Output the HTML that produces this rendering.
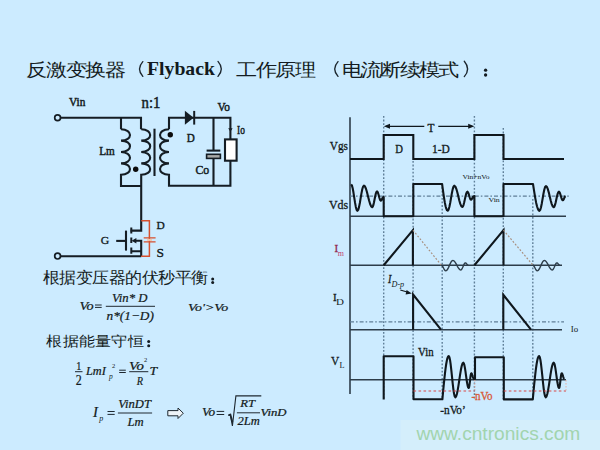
<!DOCTYPE html>
<html><head><meta charset="utf-8"><title>Flyback</title>
<style>
html,body{margin:0;padding:0;width:600px;height:450px;overflow:hidden;background:#CCEBFF;}
svg{position:absolute;left:0;top:0;}
text{font-family:"Liberation Serif",serif;}
</style></head><body>
<svg width="600" height="450" viewBox="0 0 600 450">
<g fill="none" stroke="#151d24" stroke-width="2.1" stroke-linejoin="miter">
<circle cx="57.6" cy="117.8" r="2.9" stroke-width="1.7" fill="#CCEBFF"/>
<path d="M60.5 117.8 H141 V129.3"/><path d="M121 117.8 V129.3"/>
<path d="M121 129.3 C133.00 129.30 133.00 140.65 121.00 140.65 C133.00 140.65 133.00 152.00 121.00 152.00 C133.00 152.00 133.00 163.35 121.00 163.35 C133.00 163.35 133.00 174.70 121.00 174.70 V186 H141.2"/>
<path d="M141.2 129.3 C153.20 129.30 153.20 140.65 141.20 140.65 C153.20 140.65 153.20 152.00 141.20 152.00 C153.20 152.00 153.20 163.35 141.20 163.35 C153.20 163.35 153.20 174.70 141.20 174.70 V230.6 H130.6"/>
<path d="M154.5 128.7 V176"/>
<path d="M169 129.3 C157.00 129.30 157.00 140.65 169.00 140.65 C157.00 140.65 157.00 152.00 169.00 152.00 C157.00 152.00 157.00 163.35 169.00 163.35 C157.00 163.35 157.00 174.70 169.00 174.70 V185.8 H230.4 V117.8 H169 V129.3"/>
<path d="M213.5 117.8 V150.6 M213.5 158.6 V185.8"/>
<path d="M206.6 150.6 H220.3"/>
<rect x="206.6" y="154.3" width="13.8" height="4.1" fill="#a9aaa8" stroke-width="1.6"/>
<rect x="225" y="139.4" width="11.6" height="21.3" fill="#ffffff"/>
<path d="M131.3 227.5 V233.5 M131.3 237.5 V243 M131.3 247.5 V253.8" stroke-width="2"/>
<path d="M126 230.6 V250.6"/>
<path d="M116.2 240.9 H126"/>
<path d="M134.5 240.8 H141.2 V256.3 M131.3 251.3 H141.2"/>
<path d="M60.4 256.3 H141.2"/>
<circle cx="57.6" cy="256.1" r="2.9" stroke-width="1.7" fill="#CCEBFF"/>
</g>
<path d="M184.9 110.8 L193.6 117.8 L184.9 124.8 Z" fill="#151d24"/>
<path d="M194.2 110.9 V124.6" stroke="#151d24" stroke-width="2"/>
<path d="M131.6 240.8 L136.4 238 L136.4 243.6 Z" fill="#151d24"/>
<path d="M228.2 128.2 H232.6 L230.4 131.8 Z" fill="#151d24"/>
<circle cx="135.7" cy="169.3" r="2.7" fill="#0c0c0c"/><circle cx="170.3" cy="134.7" r="2.7" fill="#0c0c0c"/>
<g fill="none" stroke="#D6502E" stroke-width="1.5"><path d="M141.2 220.8 H149.4 V256.3 H141.2"/><path d="M143.7 237.9 H155.6 M143.7 241.9 H155.6" stroke-width="1.3"/></g>
<path d="M147 239.9 H152" stroke="#F0C8B0" stroke-width="2"/>
<g stroke="#1e2830" fill="none">
<path d="M95 305 H101.7" stroke-width="1.0"/>
<path d="M95 307.4 H101.7" stroke-width="1.0"/>
<path d="M119.2 370.2 H125.8" stroke-width="1.0"/>
<path d="M119.2 372.5 H125.8" stroke-width="1.0"/>
<path d="M107.5 411.5 H114.7" stroke-width="1.0"/>
<path d="M107.5 414.4 H114.7" stroke-width="1.0"/>
<path d="M216.6 411.4 H224.2" stroke-width="1.0"/>
<path d="M216.6 414.5 H224.2" stroke-width="1.0"/>
<path d="M105.8 306.3 H155" stroke-width="1.0"/>
<path d="M75 371.7 H82.5" stroke-width="1.0"/>
<path d="M129.2 371.7 H148.3" stroke-width="1.0"/>
<path d="M117.9 413 H152.1" stroke-width="1.0"/>
<path d="M236.9 412.8 H260" stroke-width="1.0"/>
<path d="M228.3 415.6 L230.2 414.5 L232.4 426 L235.9 395.9 H261.3" stroke-width="1.1"/>
<path d="M228.6 415.2 L230.4 414.6 L232.4 422" stroke-width="1.8"/>
</g>
<path d="M167.8 410.6 H178 V408 L183.3 413.2 L178 418.5 V415.8 H167.8 Z" fill="#eef4f8" stroke="#1e2830" stroke-width="1.0" stroke-linejoin="miter"/>
<path d="M350 117.3 V394" stroke="#2d3d4a" stroke-width="1.6" fill="none"/>
<path d="M383.7 116 V399" stroke="#5f7f98" stroke-width="1.4" stroke-dasharray="1.8 1.8" fill="none"/>
<path d="M413.1 161 V399" stroke="#5f7f98" stroke-width="1.4" stroke-dasharray="1.8 1.8" fill="none"/>
<path d="M442.2 183.5 V399" stroke="#5f7f98" stroke-width="1.4" stroke-dasharray="1.8 1.8" fill="none"/>
<path d="M474.4 116 V399" stroke="#5f7f98" stroke-width="1.4" stroke-dasharray="1.8 1.8" fill="none"/>
<path d="M503.3 128 V399" stroke="#5f7f98" stroke-width="1.4" stroke-dasharray="1.8 1.8" fill="none"/>
<path d="M532.8 199 V399" stroke="#5f7f98" stroke-width="1.4" stroke-dasharray="1.8 1.8" fill="none"/>
<path d="M350 196.2 H570" stroke="#5f7f98" stroke-width="1.2" stroke-dasharray="4 2 1.6 2" fill="none"/>
<path d="M350 321.8 H564" stroke="#5f7f98" stroke-width="1.2" stroke-dasharray="4 2 1.6 2" fill="none"/>
<path d="M350 216.3 H566" stroke="#2d3d4a" stroke-width="1.5" fill="none"/>
<path d="M350 265.25 H562" stroke="#2d3d4a" stroke-width="1.5" fill="none"/>
<path d="M350 329.7 H562" stroke="#2d3d4a" stroke-width="1.5" fill="none"/>
<path d="M350 379.8 H566" stroke="#2d3d4a" stroke-width="1.5" fill="none"/>
<path d="M386 126.3 H424.3 M438.3 126.3 H472" stroke="#0f171d" stroke-width="1.3" fill="none"/>
<path d="M383.8 126.3 L390 123.8 L390 128.8 Z M474.4 126.3 L468.2 123.8 L468.2 128.8 Z" fill="#0f171d"/>
<path d="M350 159 H383.7 V135 H413.3 V159 H474.4 V135 H503.5 V159 H564" stroke="#0f171d" stroke-width="2.1" fill="none"/>
<path d="M351.1 184.4 L351.89 185.40 L352.68 188.27 L353.46 192.55 L354.25 197.60 L355.04 202.65 L355.82 206.93 L356.61 209.80 L357.40 210.80 L358.21 209.84 L359.02 207.11 L359.84 203.02 L360.65 198.20 L361.46 193.38 L362.27 189.29 L363.09 186.56 L363.90 185.60 L364.94 186.42 L365.97 188.76 L367.01 192.27 L368.05 196.40 L369.09 200.53 L370.12 204.04 L371.16 206.38 L372.20 207.20 L372.80 206.60 L373.40 204.89 L374.00 202.32 L374.60 199.30 L375.20 196.28 L375.80 193.71 L376.40 192.00 L377.00 191.40 L377.48 191.75 L377.95 192.75 L378.43 194.24 L378.90 196.00 L379.38 197.76 L379.85 199.25 L380.32 200.25 L380.80 200.60 L381.11 200.47 L381.43 200.10 L381.74 199.55 L382.05 198.90 L382.36 198.25 L382.68 197.70 L382.99 197.33 L383.30 197.20 L383.7 197 V216.3 H413.3 V184 H442.1 L442.80 189.21 L443.50 194.22 L444.20 198.83 L444.90 202.88 L445.60 206.20 L446.30 208.67 L447.00 210.19 L447.70 210.70 L448.52 209.75 L449.35 207.04 L450.18 202.98 L451.00 198.20 L451.82 193.42 L452.65 189.36 L453.48 186.65 L454.30 185.70 L455.30 186.51 L456.30 188.82 L457.30 192.27 L458.30 196.35 L459.30 200.43 L460.30 203.88 L461.30 206.19 L462.30 207.00 L462.94 206.42 L463.57 204.76 L464.21 202.28 L464.85 199.35 L465.49 196.42 L466.12 193.94 L466.76 192.28 L467.40 191.70 L467.85 192.00 L468.30 192.87 L468.75 194.17 L469.20 195.70 L469.65 197.23 L470.10 198.53 L470.55 199.40 L471.00 199.70 L471.34 199.57 L471.68 199.20 L472.01 198.65 L472.35 198.00 L472.69 197.35 L473.02 196.80 L473.36 196.43 L473.70 196.30 L474.4 196 V216.3 H503.5 V184 H533 L533.80 189.15 L534.60 194.19 L535.40 198.84 L536.20 202.92 L537.00 206.27 L537.80 208.75 L538.60 210.28 L539.40 210.80 L540.21 209.86 L541.02 207.18 L541.84 203.18 L542.65 198.45 L543.46 193.72 L544.27 189.72 L545.09 187.04 L545.90 186.10 L546.88 186.90 L547.85 189.19 L548.83 192.61 L549.80 196.65 L550.77 200.69 L551.75 204.11 L552.73 206.40 L553.70 207.20 L554.35 206.61 L555.00 204.93 L555.65 202.42 L556.30 199.45 L556.95 196.48 L557.60 193.97 L558.25 192.29 L558.90 191.70 L559.39 192.03 L559.88 192.96 L560.36 194.35 L560.85 196.00 L561.34 197.65 L561.82 199.04 L562.31 199.97 L562.80 200.30 L563.15 200.14 L563.50 199.68 L563.85 199.00 L564.20 198.20 L564.55 197.40 L564.90 196.72 L565.25 196.26 L565.60 196.10" stroke="#0f171d" stroke-width="2.1" fill="none" stroke-linejoin="round"/>
<path d="M383.7 265.25 L412.9 230.2 V265.25 M474.4 265.25 L503.5 230.2 V265.25" stroke="#0f171d" stroke-width="2.1" fill="none"/>
<path d="M413 230.2 L441.4 265.25 M503.5 230.2 L533 265.25" stroke="#A89080" stroke-width="1.2" stroke-dasharray="1.8 1.8" fill="none"/>
<path d="M441.25 265.25 L441.82 265.46 L442.39 266.06 L442.96 266.96 L443.52 268.02 L444.09 269.09 L444.66 269.99 L445.23 270.59 L445.80 270.80 L446.69 270.40 L447.57 269.28 L448.46 267.59 L449.35 265.60 L450.24 263.61 L451.12 261.92 L452.01 260.80 L452.90 260.40 L453.89 260.77 L454.88 261.81 L455.86 263.36 L456.85 265.20 L457.84 267.04 L458.82 268.59 L459.81 269.63 L460.80 270.00 L461.38 269.73 L461.95 268.96 L462.52 267.81 L463.10 266.45 L463.68 265.09 L464.25 263.94 L464.82 263.17 L465.40 262.90 L465.76 262.99 L466.12 263.24 L466.49 263.63 L466.85 264.07 L467.21 264.52 L467.57 264.91 L467.94 265.16 L468.30 265.25 M532.75 265.25 L533.32 265.46 L533.89 266.06 L534.46 266.96 L535.02 268.02 L535.59 269.09 L536.16 269.99 L536.73 270.59 L537.30 270.80 L538.19 270.40 L539.07 269.28 L539.96 267.59 L540.85 265.60 L541.74 263.61 L542.62 261.92 L543.51 260.80 L544.40 260.40 L545.39 260.77 L546.38 261.81 L547.36 263.36 L548.35 265.20 L549.34 267.04 L550.32 268.59 L551.31 269.63 L552.30 270.00 L552.88 269.73 L553.45 268.96 L554.02 267.81 L554.60 266.45 L555.17 265.09 L555.75 263.94 L556.32 263.17 L556.90 262.90 L557.26 262.99 L557.62 263.24 L557.99 263.63 L558.35 264.07 L558.71 264.52 L559.07 264.91 L559.44 265.16 L559.80 265.25" stroke="#2d3d4a" stroke-width="1.4" fill="none"/>
<path d="M413.1 329.7 V294.6 L441 329.7 M503.3 329.7 V294.8 L531 329.7" stroke="#0f171d" stroke-width="2.1" fill="none"/>
<path d="M400.3 290 L408 292.3" stroke="#0f171d" stroke-width="1.2" fill="none"/>
<path d="M411.8 293.4 L406.6 289.9 L405.6 294.6 Z" fill="#0f171d"/>
<path d="M383.7 399.5 V356.2 H413.5 V399.3 H442.4 L443.03 392.44 L443.66 385.85 L444.29 379.59 L444.92 373.81 L445.55 368.65 L446.18 364.25 L446.81 360.71 L447.44 358.11 L448.07 356.53 L448.70 356.00 L449.36 357.01 L450.02 359.94 L450.68 364.51 L451.34 370.27 L452.00 376.65 L452.66 383.03 L453.32 388.79 L453.98 393.36 L454.64 396.29 L455.30 397.30 L456.10 396.45 L456.90 394.00 L457.70 390.17 L458.50 385.35 L459.30 380.00 L460.10 374.65 L460.90 369.83 L461.70 366.00 L462.50 363.55 L463.30 362.70 L463.84 363.32 L464.38 365.12 L464.92 367.91 L465.46 371.44 L466.00 375.35 L466.54 379.26 L467.08 382.79 L467.62 385.58 L468.16 387.38 L468.70 388.00 L468.96 387.64 L469.22 386.60 L469.48 384.97 L469.74 382.92 L470.00 380.65 L470.26 378.38 L470.52 376.33 L470.78 374.70 L471.04 373.66 L471.30 373.30 L471.57 373.44 L471.84 373.84 L472.11 374.47 L472.38 375.27 L472.65 376.15 L472.92 377.03 L473.19 377.83 L473.46 378.46 L473.73 378.86 L474.00 379.00 L475 379 V357.3 H503.8 V399.4 H532.8 L533.43 392.44 L534.06 385.85 L534.69 379.59 L535.32 373.81 L535.95 368.65 L536.58 364.25 L537.21 360.71 L537.84 358.11 L538.47 356.53 L539.10 356.00 L539.76 357.01 L540.42 359.94 L541.08 364.51 L541.74 370.27 L542.40 376.65 L543.06 383.03 L543.72 388.79 L544.38 393.36 L545.04 396.29 L545.70 397.30 L546.50 396.45 L547.30 394.00 L548.10 390.17 L548.90 385.35 L549.70 380.00 L550.50 374.65 L551.30 369.83 L552.10 366.00 L552.90 363.55 L553.70 362.70 L554.24 363.32 L554.78 365.12 L555.32 367.91 L555.86 371.44 L556.40 375.35 L556.94 379.26 L557.48 382.79 L558.02 385.58 L558.56 387.38 L559.10 388.00 L559.36 387.64 L559.62 386.60 L559.88 384.97 L560.14 382.92 L560.40 380.65 L560.66 378.38 L560.92 376.33 L561.18 374.70 L561.44 373.66 L561.70 373.30 L561.97 373.44 L562.24 373.84 L562.51 374.47 L562.78 375.27 L563.05 376.15 L563.32 377.03 L563.59 377.83 L563.86 378.46 L564.13 378.86 L564.40 379.00" stroke="#0f171d" stroke-width="2.1" fill="none" stroke-linejoin="round"/>
<path d="M413.5 391 H474.6 M503.8 391 H566" stroke="#D84848" stroke-width="1.1" stroke-dasharray="2.6 2.4" fill="none"/>
<path d="M474.8 380 V391 M566 380 V391" stroke="#E8A898" stroke-width="0.9" stroke-dasharray="1.5 1.5" fill="none"/>
<rect x="400.5" y="420" width="199.5" height="30" fill="#D4EEFB"/>
<g class="cjk">
<text x="26.20 44.49 62.77 81.06 99.35" y="75.75" transform="matrix(1.08 0 0 0.92 -2.096 6.060)" style="font-size:19.6px;fill:#141c22">反激变换器</text>
<text x="236.20 254.30 272.40 290.51" y="75.75" transform="matrix(1.08 0 0 0.92 -18.896 6.060)" style="font-size:19.6px;fill:#141c22">工作原理</text>
<text x="341.80 359.67 377.54 395.41 413.28 431.15" y="75.75" transform="matrix(1.08 0 0 0.92 -27.344 6.060)" style="font-size:19.6px;fill:#141c22">电流断续模式</text>
<text x="43.00 59.50 76.00 92.50 109.00 125.50 142.00 158.50 175.00 191.50" y="282.90" transform="matrix(1.0 0 0 0.94 0.000 16.974)" style="font-size:16.6px;fill:#141c22">根据变压器的伏秒平衡</text>
<text x="46.30 62.55 78.80 95.05 111.30 127.55" y="346.20" transform="matrix(1.0 0 0 0.87 0.000 45.006)" style="font-size:16.3px;fill:#141c22">根据能量守恒</text>
</g>
<g fill="none" stroke="#1c262e" stroke-width="1.35" stroke-linecap="round">
<path d="M142.8 61.6 Q136.2 69 142.8 76.4"/><path d="M218 61.4 Q224.6 69 218 76.4"/>
<path d="M338 61.6 Q331.4 69 338 76.4"/><path d="M464.3 61.2 Q470.9 69 464.3 76.6"/>
</g>
<g fill="#141c22"><circle cx="485.6" cy="70.2" r="1.65"/><circle cx="485.6" cy="75" r="1.65"/><circle cx="212.7" cy="279" r="1.5"/><circle cx="212.7" cy="282.6" r="1.5"/><circle cx="148.7" cy="341.6" r="1.5"/><circle cx="148.7" cy="345.8" r="1.5"/></g>
<text x="69.10" y="106.00" style="font-family:'Liberation Serif',serif;font-size:11.50px;fill:#121a20;stroke:#121a20;stroke-width:0.45px;" textLength="16.31" lengthAdjust="spacingAndGlyphs">Vin</text>
<text x="141.60" y="107.60" style="font-family:'Liberation Serif',serif;font-size:15.86px;fill:#121a20;stroke:#121a20;stroke-width:0.45px;" textLength="18.84" lengthAdjust="spacingAndGlyphs">n:1</text>
<text x="99.30" y="154.50" style="font-family:'Liberation Serif',serif;font-size:11.50px;fill:#121a20;stroke:#121a20;stroke-width:0.45px;" textLength="15.53" lengthAdjust="spacingAndGlyphs">Lm</text>
<text x="217.60" y="111.10" style="font-family:'Liberation Serif',serif;font-size:11.50px;fill:#121a20;stroke:#121a20;stroke-width:0.45px;" textLength="12.33" lengthAdjust="spacingAndGlyphs">Vo</text>
<text x="237.10" y="133.80" style="font-family:'Liberation Serif',serif;font-size:11.50px;fill:#121a20;stroke:#121a20;stroke-width:0.45px;" textLength="7.77" lengthAdjust="spacingAndGlyphs">Io</text>
<text x="186.80" y="142.20" style="font-family:'Liberation Serif',serif;font-size:11.50px;fill:#121a20;stroke:#121a20;stroke-width:0.45px;" textLength="8.04" lengthAdjust="spacingAndGlyphs">D</text>
<text x="195.50" y="174.40" style="font-family:'Liberation Serif',serif;font-size:12.50px;fill:#121a20;stroke:#121a20;stroke-width:0.45px;" textLength="13.76" lengthAdjust="spacingAndGlyphs">Co</text>
<text x="156.50" y="229.00" style="font-family:'Liberation Serif',serif;font-size:11.00px;fill:#121a20;stroke:#121a20;stroke-width:0.3px;" textLength="8.27" lengthAdjust="spacingAndGlyphs">D</text>
<text x="156.50" y="256.70" style="font-family:'Liberation Serif',serif;font-size:11.50px;fill:#121a20;stroke:#121a20;stroke-width:0.3px;" textLength="7.48" lengthAdjust="spacingAndGlyphs">S</text>
<text x="100.80" y="243.75" style="font-family:'Liberation Serif',serif;font-size:11.00px;fill:#121a20;stroke:#121a20;stroke-width:0.3px;" textLength="8.49" lengthAdjust="spacingAndGlyphs">G</text>
<text x="147.00" y="75.40" style="font-family:'Liberation Serif',serif;font-size:18.96px;fill:#121a20;font-weight:bold;" textLength="67.94" lengthAdjust="spacingAndGlyphs">Flyback</text>
<text x="79.50" y="309.60" style="font-family:'Liberation Serif',serif;font-size:12.82px;fill:#121a20;font-style:italic;stroke:#121a20;stroke-width:0.22px;" textLength="14.19" lengthAdjust="spacingAndGlyphs">Vo</text>
<text x="112.00" y="301.60" style="font-family:'Liberation Serif',serif;font-size:12.82px;fill:#121a20;font-style:italic;stroke:#121a20;stroke-width:0.22px;" textLength="35.48" lengthAdjust="spacingAndGlyphs">Vin* D</text>
<text x="106.50" y="319.50" style="font-family:'Liberation Serif',serif;font-size:13.30px;fill:#121a20;font-style:italic;stroke:#121a20;stroke-width:0.22px;" textLength="47.42" lengthAdjust="spacingAndGlyphs">n*(1−D)</text>
<text x="188.00" y="311.10" style="font-family:'Liberation Serif',serif;font-size:11.29px;fill:#121a20;font-style:italic;stroke:#121a20;stroke-width:0.22px;" textLength="40.27" lengthAdjust="spacingAndGlyphs">Vo'&gt;Vo</text>
<text x="76.20" y="369.50" style="font-family:'Liberation Serif',serif;font-size:12.53px;fill:#121a20;stroke:#121a20;stroke-width:0.22px;" textLength="5.11" lengthAdjust="spacingAndGlyphs">1</text>
<text x="75.80" y="385.10" style="font-family:'Liberation Serif',serif;font-size:13.78px;fill:#121a20;stroke:#121a20;stroke-width:0.22px;" textLength="5.96" lengthAdjust="spacingAndGlyphs">2</text>
<text x="86.00" y="374.90" style="font-family:'Liberation Serif',serif;font-size:12.08px;fill:#121a20;font-style:italic;stroke:#121a20;stroke-width:0.22px;" textLength="19.71" lengthAdjust="spacingAndGlyphs">LmI</text>
<text x="109.00" y="378.60" style="font-family:'Liberation Serif',serif;font-size:7.50px;fill:#121a20;font-style:italic;">p</text>
<text x="112.10" y="367.90" style="font-family:'Liberation Serif',serif;font-size:6.50px;fill:#121a20;">2</text>
<text x="129.10" y="370.30" style="font-family:'Liberation Serif',serif;font-size:12.44px;fill:#121a20;font-style:italic;stroke:#121a20;stroke-width:0.22px;" textLength="14.82" lengthAdjust="spacingAndGlyphs">Vo</text>
<text x="144.10" y="362.10" style="font-family:'Liberation Serif',serif;font-size:6.50px;fill:#121a20;">2</text>
<text x="136.70" y="384.50" style="font-family:'Liberation Serif',serif;font-size:12.50px;fill:#121a20;font-style:italic;stroke:#121a20;stroke-width:0.22px;" textLength="6.23" lengthAdjust="spacingAndGlyphs">R</text>
<text x="149.60" y="374.90" style="font-family:'Liberation Serif',serif;font-size:12.08px;fill:#121a20;font-style:italic;stroke:#121a20;stroke-width:0.22px;" textLength="7.63" lengthAdjust="spacingAndGlyphs">T</text>
<text x="93.00" y="416.50" style="font-family:'Liberation Serif',serif;font-size:15.28px;fill:#121a20;font-style:italic;stroke:#121a20;stroke-width:0.22px;" textLength="4.89" lengthAdjust="spacingAndGlyphs">I</text>
<text x="99.20" y="420.50" style="font-family:'Liberation Serif',serif;font-size:8.00px;fill:#121a20;font-style:italic;">p</text>
<text x="118.30" y="408.20" style="font-family:'Liberation Serif',serif;font-size:11.73px;fill:#121a20;font-style:italic;stroke:#121a20;stroke-width:0.22px;" textLength="32.67" lengthAdjust="spacingAndGlyphs">VinDT</text>
<text x="127.50" y="426.10" style="font-family:'Liberation Serif',serif;font-size:12.33px;fill:#121a20;font-style:italic;stroke:#121a20;stroke-width:0.22px;" textLength="16.17" lengthAdjust="spacingAndGlyphs">Lm</text>
<text x="201.90" y="415.70" style="font-family:'Liberation Serif',serif;font-size:11.73px;fill:#121a20;font-style:italic;stroke:#121a20;stroke-width:0.22px;" textLength="13.19" lengthAdjust="spacingAndGlyphs">Vo</text>
<text x="240.30" y="407.00" style="font-family:'Liberation Serif',serif;font-size:11.33px;fill:#121a20;font-style:italic;stroke:#121a20;stroke-width:0.22px;" textLength="14.77" lengthAdjust="spacingAndGlyphs">RT</text>
<text x="237.50" y="424.80" style="font-family:'Liberation Serif',serif;font-size:12.06px;fill:#121a20;font-style:italic;stroke:#121a20;stroke-width:0.22px;" textLength="22.30" lengthAdjust="spacingAndGlyphs">2Lm</text>
<text x="260.55" y="416.05" style="font-family:'Liberation Serif',serif;font-size:9.31px;fill:#121a20;font-style:italic;stroke:#121a20;stroke-width:0.22px;" textLength="25.95" lengthAdjust="spacingAndGlyphs">VinD</text>
<text x="329.80" y="149.70" style="font-family:'Liberation Serif',serif;font-size:11.50px;fill:#121a20;stroke:#121a20;stroke-width:0.3px;" textLength="18.12" lengthAdjust="spacingAndGlyphs">Vgs</text>
<text x="328.90" y="208.50" style="font-family:'Liberation Serif',serif;font-size:11.50px;fill:#121a20;stroke:#121a20;stroke-width:0.3px;" textLength="19.22" lengthAdjust="spacingAndGlyphs">Vds</text>
<text x="395.20" y="152.80" style="font-family:'Liberation Serif',serif;font-size:11.50px;fill:#121a20;stroke:#121a20;stroke-width:0.3px;" textLength="7.70" lengthAdjust="spacingAndGlyphs">D</text>
<text x="431.90" y="152.80" style="font-family:'Liberation Serif',serif;font-size:11.50px;fill:#121a20;stroke:#121a20;stroke-width:0.3px;" textLength="17.85" lengthAdjust="spacingAndGlyphs">1-D</text>
<text x="427.60" y="132.10" style="font-family:'Liberation Serif',serif;font-size:11.50px;fill:#121a20;stroke:#121a20;stroke-width:0.3px;" textLength="6.95" lengthAdjust="spacingAndGlyphs">T</text>
<text x="334.40" y="251.60" style="font-family:'Liberation Serif',serif;font-size:11.00px;fill:#902850;stroke:#902850;stroke-width:0.3px;">I</text>
<text x="337.70" y="256.20" style="font-family:'Liberation Serif',serif;font-size:8.00px;fill:#C04070;" textLength="6.13" lengthAdjust="spacingAndGlyphs">m</text>
<text x="333.10" y="300.60" style="font-family:'Liberation Serif',serif;font-size:11.00px;fill:#121a20;stroke:#121a20;stroke-width:0.3px;">I</text>
<text x="336.10" y="304.50" style="font-family:'Liberation Serif',serif;font-size:7.88px;fill:#121a20;" textLength="7.92" lengthAdjust="spacingAndGlyphs">D</text>
<text x="331.00" y="364.60" style="font-family:'Liberation Serif',serif;font-size:12.00px;fill:#121a20;stroke:#121a20;stroke-width:0.3px;" textLength="8.20" lengthAdjust="spacingAndGlyphs">V</text>
<text x="339.60" y="367.50" style="font-family:'Liberation Serif',serif;font-size:7.36px;fill:#121a20;" textLength="5.04" lengthAdjust="spacingAndGlyphs">L</text>
<text x="462.50" y="179.00" style="font-family:'Liberation Serif',serif;font-size:7.00px;fill:#121a20;" textLength="26.98" lengthAdjust="spacingAndGlyphs">Vin+nVo</text>
<text x="488.50" y="201.50" style="font-family:'Liberation Serif',serif;font-size:7.00px;fill:#121a20;" textLength="11.27" lengthAdjust="spacingAndGlyphs">Vin</text>
<text x="570.70" y="331.90" style="font-family:'Liberation Serif',serif;font-size:8.50px;fill:#121a20;" textLength="7.41" lengthAdjust="spacingAndGlyphs">Io</text>
<text x="388.00" y="283.20" style="font-family:'Liberation Serif',serif;font-size:11.58px;fill:#121a20;font-style:italic;stroke:#121a20;stroke-width:0.3px;" textLength="3.37" lengthAdjust="spacingAndGlyphs">I</text>
<text x="391.50" y="286.90" style="font-family:'Liberation Serif',serif;font-size:7.30px;fill:#121a20;font-style:italic;" textLength="12.69" lengthAdjust="spacingAndGlyphs">D-p</text>
<text x="418.10" y="355.50" style="font-family:'Liberation Serif',serif;font-size:11.50px;fill:#121a20;stroke:#121a20;stroke-width:0.3px;" textLength="15.44" lengthAdjust="spacingAndGlyphs">Vin</text>
<text x="471.40" y="399.80" style="font-family:'Liberation Serif',serif;font-size:11.50px;fill:#D85838;stroke:#D85838;stroke-width:0.3px;" textLength="21.15" lengthAdjust="spacingAndGlyphs">-nVo</text>
<text x="440.30" y="414.30" style="font-family:'Liberation Serif',serif;font-size:11.50px;fill:#121a20;stroke:#121a20;stroke-width:0.3px;" textLength="25.46" lengthAdjust="spacingAndGlyphs">-nVo’</text>
<text x="416.40" y="440.40" style="font-family:'Liberation Sans',sans-serif;font-size:18.86px;fill:#A2D4AE;" textLength="163.90" lengthAdjust="spacingAndGlyphs">www.cntronics.com</text>
</svg>
</body></html>
